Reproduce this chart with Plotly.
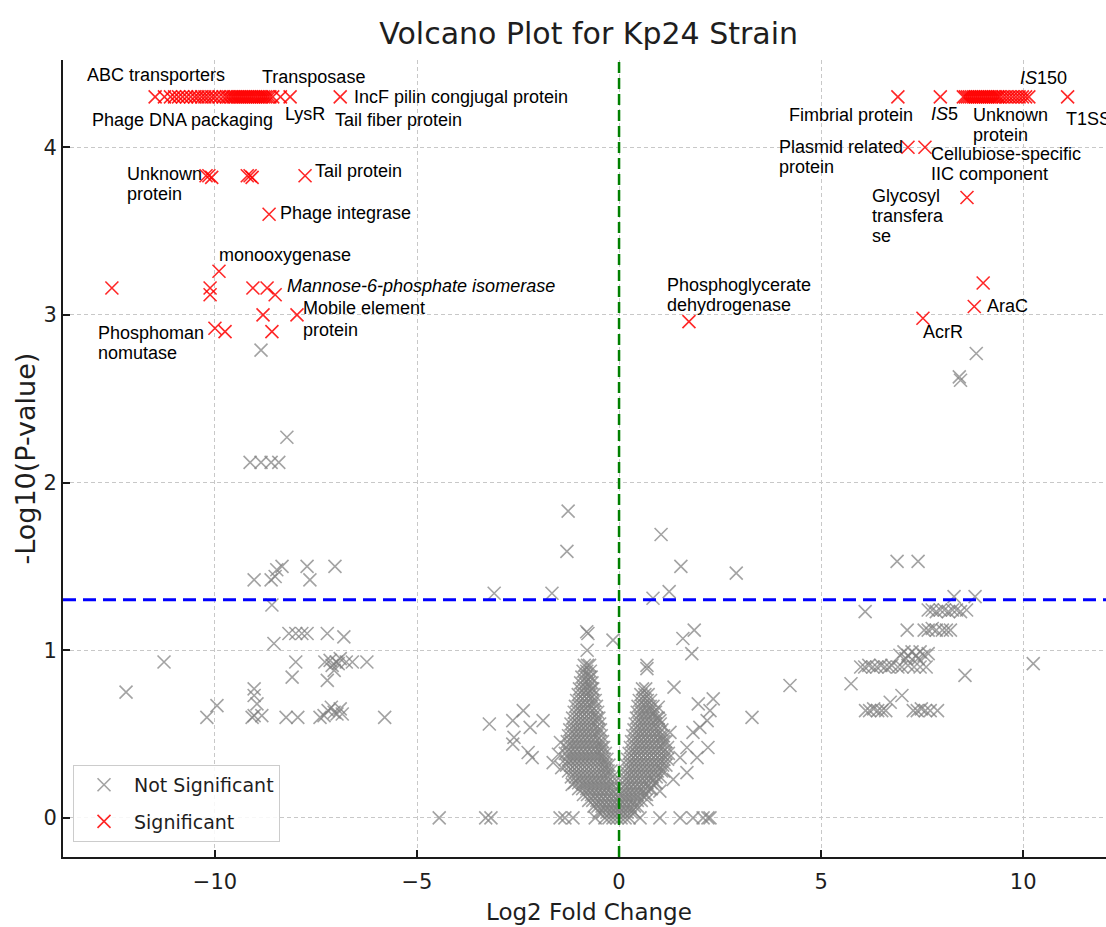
import plotly.graph_objects as go

# ---------------- data ----------------
# Significant genes: the capped row at the top of the plot
sig_top_y = 4.30
sig_top_left_x = [-11.48, -11.25, -11.1, -11.0, -10.9, -10.8, -10.7, -10.6, -10.5, -10.42, -10.33,
                  -10.25, -10.17, -10.08, -10.0, -9.9, -9.8, -9.72, -9.66, -9.6, -9.55, -9.5,
                  -9.45, -9.4, -9.35, -9.3, -9.25, -9.2, -9.15, -9.1, -9.05, -9.0, -8.95, -8.9,
                  -8.85, -8.8, -8.75, -8.7, -8.64, -8.57, -8.38, -8.14, -6.9]
sig_top_right_x = [6.9, 7.95, 8.52, 8.57, 8.62, 8.67, 8.72, 8.77, 8.82, 8.87, 8.92, 8.97, 9.02,
                   9.07, 9.12, 9.17, 9.22, 9.27, 9.32, 9.37, 9.42, 9.5, 9.58, 9.66, 9.74, 9.82,
                   9.9, 9.98, 10.06, 10.14, 11.1]

# Other significant genes (log2FC, -log10 p)
sig_other = [(-10.22, 3.83), (-10.15, 3.83), (-10.08, 3.82), (-9.2, 3.83), (-9.13, 3.83),
             (-9.08, 3.82), (-7.77, 3.83), (-8.66, 3.60), (-9.9, 3.26), (-12.55, 3.16),
             (-10.12, 3.16), (-10.12, 3.12), (-9.06, 3.16), (-8.71, 3.16), (-8.51, 3.12),
             (-8.81, 3.0), (-7.97, 3.0), (-10.0, 2.92), (-9.75, 2.9), (-8.59, 2.9),
             (7.15, 4.0), (7.57, 4.0), (8.61, 3.70), (9.01, 3.19), (8.79, 3.05),
             (7.52, 2.98), (1.73, 2.96)]

# Not significant genes, large negative fold change
ns_left = [(-8.86, 2.79), (-8.22, 2.27), (-9.13, 2.12), (-8.86, 2.12), (-8.61, 2.12), (-8.42, 2.12),
           (-9.03, 1.42), (-8.61, 1.42), (-8.47, 1.48), (-8.34, 1.50), (-8.51, 1.44), (-7.72, 1.50),
           (-7.65, 1.42), (-7.03, 1.50), (-8.59, 1.27), (-8.54, 1.04), (-8.17, 1.10), (-8.0, 1.10),
           (-7.85, 1.10), (-7.72, 1.10), (-7.22, 1.10), (-6.81, 1.08), (-11.26, 0.93), (-12.2, 0.75),
           (-8.0, 0.93), (-7.28, 0.93), (-7.15, 0.94), (-7.0, 0.93), (-6.9, 0.95), (-6.75, 0.93),
           (-6.6, 0.93), (-7.1, 0.91), (-6.95, 0.92), (-6.24, 0.93), (-8.09, 0.84), (-7.22, 0.82),
           (-7.05, 0.88), (-9.03, 0.77), (-9.03, 0.73), (-9.95, 0.67), (-10.2, 0.60), (-8.96, 0.68),
           (-9.03, 0.61), (-8.84, 0.61), (-9.08, 0.60), (-8.24, 0.60), (-7.95, 0.60), (-7.4, 0.60),
           (-7.3, 0.61), (-7.2, 0.64), (-7.12, 0.66), (-7.05, 0.63), (-6.98, 0.62), (-6.9, 0.65),
           (-6.85, 0.62), (-5.8, 0.60)]

# Not significant genes, large positive fold change
ns_right = [(8.84, 2.77), (8.42, 2.63), (8.45, 2.61), (6.88, 1.53), (7.40, 1.53), (8.29, 1.32),
            (8.81, 1.32), (6.09, 1.23), (7.65, 1.24), (7.75, 1.24), (7.85, 1.23), (7.95, 1.24),
            (8.05, 1.24), (8.15, 1.23), (8.25, 1.24), (8.35, 1.24), (8.45, 1.23), (8.6, 1.24),
            (7.13, 1.12), (7.55, 1.12), (7.65, 1.12), (7.75, 1.13), (7.85, 1.12), (8.0, 1.12),
            (8.1, 1.12), (8.2, 1.12), (6.95, 0.97), (7.05, 0.99), (7.15, 0.97), (7.25, 0.99),
            (7.35, 0.97), (7.45, 0.99), (7.55, 0.97), (7.65, 0.98), (7.1, 0.95), (7.4, 0.95),
            (5.98, 0.9), (6.08, 0.9), (6.18, 0.91), (6.28, 0.9), (6.38, 0.9), (6.48, 0.91),
            (6.58, 0.9), (6.68, 0.9), (6.75, 0.91), (6.9, 0.9), (7.0, 0.9), (7.15, 0.91),
            (7.3, 0.9), (7.45, 0.9), (7.6, 0.9), (10.25, 0.92), (8.56, 0.85), (4.23, 0.79),
            (5.74, 0.80), (7.0, 0.73), (6.71, 0.69), (6.1, 0.64), (6.2, 0.64), (6.3, 0.65),
            (6.4, 0.64), (6.5, 0.64), (6.6, 0.64), (7.28, 0.64), (7.38, 0.64), (7.48, 0.65),
            (7.58, 0.64), (7.7, 0.64), (7.88, 0.64)]

# Not significant genes scattered around the central cloud
ns_center = [(-1.26, 1.83), (-1.29, 1.59), (-3.09, 1.34), (-1.66, 1.34), (1.04, 1.69), (1.53, 1.50),
             (1.24, 1.35), (0.84, 1.31), (2.9, 1.46), (-0.8, 1.11), (-0.77, 1.10), (-0.15, 1.06),
             (1.58, 1.07), (1.86, 1.12), (1.8, 0.98), (-0.79, 1.0), (0.69, 0.91), (0.69, 0.89),
             (1.36, 0.78), (0.97, 0.66), (1.96, 0.68), (2.33, 0.71), (3.29, 0.60), (-3.21, 0.56),
             (-2.63, 0.58), (-2.37, 0.64), (-2.2, 0.54), (-1.88, 0.58), (-2.63, 0.44), (-2.25, 0.39),
             (-2.15, 0.36), (-1.63, 0.33), (-1.16, 0.2), (2.0, 0.54), (2.18, 0.58), (2.2, 0.42),
             (1.83, 0.51), (1.68, 0.42), (1.51, 0.36), (1.93, 0.36), (1.68, 0.27), (1.34, 0.23),
             (1.01, 0.16), (0.69, 0.11), (1.26, 0.51), (1.01, 0.58), (2.25, 0.64), (-2.6, 0.48),
             (-1.5, 0.38), (-1.42, 0.3), (-1.45, 0.45)]

# Not significant genes with p = 1 (on the zero line)
ns_zero_x = [-4.45, -3.3, -3.17, -1.46, -1.34, -1.14, -0.59, 0.52, 1.01, 1.51, 1.83, 2.08, 2.2, 2.25]

# Dense central "V" cloud, read row by row (-log10 p level -> log2FC values)
core_levels = [0.000, 0.035, 0.070, 0.105, 0.140, 0.175, 0.210, 0.245, 0.280, 0.315,
               0.350, 0.385, 0.420, 0.455, 0.490, 0.525, 0.560, 0.595, 0.630, 0.665,
               0.700, 0.735, 0.770, 0.805, 0.840, 0.875, 0.910]
core_rows = [
    [-0.35, -0.25, -0.15, -0.05, 0.05, 0.15, 0.25],
    [-0.5, -0.4, -0.3, -0.2, -0.1, 0.0, 0.1, 0.2, 0.3, 0.38],
    [-0.62, -0.52, -0.42, -0.32, -0.22, -0.12, -0.02, 0.08, 0.18, 0.28, 0.38, 0.45],
    [-0.75, -0.65, -0.55, -0.45, -0.35, -0.25, -0.15, -0.05, 0.05, 0.15, 0.25, 0.35, 0.45, 0.55],
    [-0.88, -0.78, -0.68, -0.58, -0.48, -0.38, -0.28, -0.18, -0.08, 0.04, 0.14, 0.24, 0.34,
     0.44, 0.54, 0.64, 0.68],
    [-1.0, -0.9, -0.8, -0.7, -0.6, -0.5, -0.4, -0.3, -0.2, -0.08, 0.06, 0.16, 0.26, 0.36,
     0.46, 0.56, 0.66, 0.76, 0.8],
    [-1.1, -1.0, -0.9, -0.8, -0.7, -0.6, -0.5, -0.4, -0.3, -0.2, -0.12, 0.09, 0.19, 0.29,
     0.39, 0.49, 0.59, 0.69, 0.79, 0.89, 0.92],
    [-1.18, -1.08, -0.98, -0.88, -0.78, -0.68, -0.58, -0.48, -0.38, -0.28, -0.16, 0.12, 0.22,
     0.32, 0.42, 0.52, 0.62, 0.72, 0.82, 0.92, 1.02],
    [-1.25, -1.15, -1.05, -0.95, -0.85, -0.75, -0.65, -0.55, -0.45, -0.35, -0.27, -0.2, 0.15,
     0.25, 0.35, 0.45, 0.55, 0.65, 0.75, 0.85, 0.95, 1.05, 1.1],
    [-1.3, -1.2, -1.1, -1.0, -0.9, -0.8, -0.7, -0.6, -0.5, -0.4, -0.32, -0.25, 0.18, 0.28,
     0.38, 0.48, 0.58, 0.68, 0.78, 0.88, 0.98, 1.08, 1.16],
    [-1.33, -1.23, -1.13, -1.03, -0.93, -0.83, -0.73, -0.63, -0.53, -0.43, -0.36, -0.3, 0.21,
     0.31, 0.41, 0.51, 0.61, 0.71, 0.81, 0.91, 1.01, 1.11, 1.2],
    [-1.33, -1.23, -1.13, -1.03, -0.93, -0.83, -0.73, -0.63, -0.53, -0.43, -0.34, 0.25, 0.35,
     0.45, 0.55, 0.65, 0.75, 0.85, 0.95, 1.05, 1.15, 1.22],
    [-1.3, -1.2, -1.1, -1.0, -0.9, -0.8, -0.7, -0.6, -0.5, -0.42, -0.38, 0.28, 0.38, 0.48,
     0.58, 0.68, 0.78, 0.88, 0.98, 1.08, 1.2],
    [-1.28, -1.18, -1.08, -0.98, -0.88, -0.78, -0.68, -0.58, -0.48, -0.41, 0.31, 0.41, 0.51,
     0.61, 0.71, 0.81, 0.91, 1.01, 1.11, 1.16],
    [-1.25, -1.15, -1.05, -0.95, -0.85, -0.75, -0.65, -0.55, -0.44, 0.34, 0.44, 0.54, 0.64,
     0.74, 0.84, 0.94, 1.04, 1.1],
    [-1.22, -1.12, -1.02, -0.92, -0.82, -0.72, -0.62, -0.52, -0.46, 0.37, 0.47, 0.57, 0.67,
     0.77, 0.87, 0.97, 1.06],
    [-1.19, -1.09, -0.99, -0.89, -0.79, -0.69, -0.59, -0.48, 0.40, 0.5, 0.6, 0.7, 0.8, 0.9, 1.02],
    [-1.15, -1.05, -0.95, -0.85, -0.75, -0.65, -0.55, -0.5, 0.43, 0.53, 0.63, 0.73, 0.83, 0.93, 0.97],
    [-1.11, -1.01, -0.91, -0.81, -0.71, -0.61, -0.53, 0.45, 0.55, 0.65, 0.75, 0.85, 0.9],
    [-1.08, -0.98, -0.88, -0.78, -0.68, -0.56, 0.47, 0.57, 0.67, 0.77, 0.84],
    [-1.05, -0.95, -0.85, -0.75, -0.65, -0.59, 0.5, 0.6, 0.7, 0.78],
    [-1.01, -0.91, -0.81, -0.71, -0.62, 0.54, 0.64, 0.72],
    [-0.98, -0.88, -0.78, -0.68, -0.65, 0.58, 0.66],
    [-0.95, -0.85, -0.75, -0.67],
    [-0.92, -0.82, -0.72, -0.69],
    [-0.89, -0.8, -0.71],
    [-0.86, -0.78, -0.73],
]

threshold_neglog10p = 1.301   # p = 0.05
fc_center = 0.0

x_ticks = [-10, -5, 0, 5, 10]
x_tick_labels = ["\u221210", "\u22125", "0", "5", "10"]
y_ticks = [0, 1, 2, 3, 4]
y_tick_labels = ["0", "1", "2", "3", "4"]

# ---------------- assemble series ----------------
ns_x, ns_y = [], []
for lvl, row in zip(core_levels, core_rows):
    for v in row:
        ns_x.append(v)
        ns_y.append(lvl)
for grp in (ns_center, ns_left, ns_right):
    for a, b in grp:
        ns_x.append(a)
        ns_y.append(b)
for v in ns_zero_x:
    ns_x.append(v)
    ns_y.append(0.0)

sig_x = list(sig_top_left_x) + list(sig_top_right_x)
sig_y = [sig_top_y] * len(sig_x)
for a, b in sig_other:
    sig_x.append(a)
    sig_y.append(b)

GREY = "rgba(128,128,128,0.72)"
RED = "rgba(255,0,0,0.85)"
TXT = "#1e1e1e"

fig = go.Figure()
fig.add_trace(go.Scatter(
    x=ns_x, y=ns_y, mode="markers", name="Not Significant", legendgroup="ns",
    marker=dict(symbol="x-thin", size=13, color=GREY, line=dict(width=1.6, color=GREY)),
))
fig.add_trace(go.Scatter(
    x=sig_x, y=sig_y, mode="markers", name="Significant", legendgroup="sig",
    marker=dict(symbol="x-thin", size=13, color=RED, line=dict(width=1.6, color=RED)),
))

fig.add_shape(type="line", xref="paper", x0=0, x1=1, yref="y",
              y0=threshold_neglog10p, y1=threshold_neglog10p,
              line=dict(color="#0000ff", width=3, dash="13px,7px"), layer="above")
fig.add_shape(type="line", xref="x", x0=fc_center, x1=fc_center, yref="paper", y0=0, y1=1,
              line=dict(color="#008000", width=2.5, dash="11px,5px"), layer="above")

# ---------------- gene labels ----------------
labels = [
    ("ABC transporters", -13.22, 4.43),
    ("Transposase", -8.89, 4.42),
    ("IncF pilin congjugal protein", -6.61, 4.30),
    ("Phage DNA packaging", -13.09, 4.16),
    ("LysR", -8.32, 4.20),
    ("Tail fiber protein", -7.08, 4.16),
    ("Unknown", -12.23, 3.84), ("protein", -12.23, 3.72),
    ("Tail protein", -7.57, 3.86),
    ("Phage integrase", -8.44, 3.61),
    ("monooxygenase", -9.95, 3.36),
    ("<i>Mannose-6-phosphate isomerase</i>", -8.27, 3.17),
    ("Mobile element", -7.87, 3.04), ("protein", -7.87, 2.91),
    ("Phosphoman", -12.95, 2.89), ("nomutase", -12.95, 2.77),
    ("<i>IS</i>150", 9.88, 4.41),
    ("Fimbrial protein", 4.16, 4.19),
    ("<i>IS</i>5", 7.67, 4.20),
    ("Unknown", 8.71, 4.19), ("protein", 8.71, 4.07),
    ("T1SS", 11.01, 4.17),
    ("Plasmid related", 3.91, 4.00), ("protein", 3.91, 3.88),
    ("Cellubiose-specific", 7.67, 3.96), ("IIC component", 7.67, 3.84),
    ("Glycosyl", 6.21, 3.71), ("transfera", 6.21, 3.59), ("se", 6.21, 3.47),
    ("Phosphoglycerate", 1.14, 3.18), ("dehydrogenase", 1.14, 3.06),
    ("AraC", 9.06, 3.05),
    ("AcrR", 7.48, 2.90),
]
for text, lx, ly in labels:
    fig.add_annotation(text=text, x=lx, y=ly, xref="x", yref="y", showarrow=False,
                       xanchor="left", yanchor="middle",
                       font=dict(family="Liberation Sans, Arial", size=18, color="black"))

# axis titles
fig.add_annotation(text="Log2 Fold Change", xref="paper", yref="paper", x=0.5043, y=-0.0688,
                   showarrow=False, xanchor="center", yanchor="middle",
                   font=dict(family="DejaVu Sans", size=23, color=TXT))
fig.add_annotation(text="-Log10(P-value)", xref="paper", yref="paper", x=-0.0364, y=0.5,
                   showarrow=False, xanchor="center", yanchor="middle", textangle=-90,
                   font=dict(family="DejaVu Sans", size=27, color=TXT))

axis_common = dict(showgrid=True, gridcolor="#c8c8c8", gridwidth=1, griddash="4px,3px",
                   zeroline=False, showline=True, linecolor="#1a1a1a", linewidth=2,
                   ticks="inside", ticklen=7, tickwidth=1.5, tickcolor="#1a1a1a",
                   tickfont=dict(family="DejaVu Sans", size=21, color=TXT), mirror=False)
fig.update_xaxes(range=[-13.76, 12.05], tickmode="array", tickvals=x_ticks,
                 ticktext=x_tick_labels, ticklabelstandoff=5, **axis_common)
fig.update_yaxes(range=[-0.233, 4.52], tickmode="array", tickvals=y_ticks,
                 ticktext=y_tick_labels, **axis_common)

fig.update_layout(
    width=1106, height=927, autosize=False,
    margin=dict(l=63, r=0, t=60, b=70),
    plot_bgcolor="white", paper_bgcolor="white",
    title=dict(text="Volcano Plot for Kp24 Strain", x=0.504, xref="paper", xanchor="center",
               y=1 - 33 / 927, yref="container", yanchor="middle",
               font=dict(family="DejaVu Sans", size=30, color=TXT)),
    showlegend=True,
    legend=dict(x=0.0096, y=0.019, xanchor="left", yanchor="bottom",
                bgcolor="rgba(255,255,255,0.85)", bordercolor="#cccccc", borderwidth=1,
                font=dict(family="DejaVu Sans", size=19, color=TXT), itemwidth=50,
                traceorder="grouped", tracegroupgap=9),
)

fig.write_html("out.html")
